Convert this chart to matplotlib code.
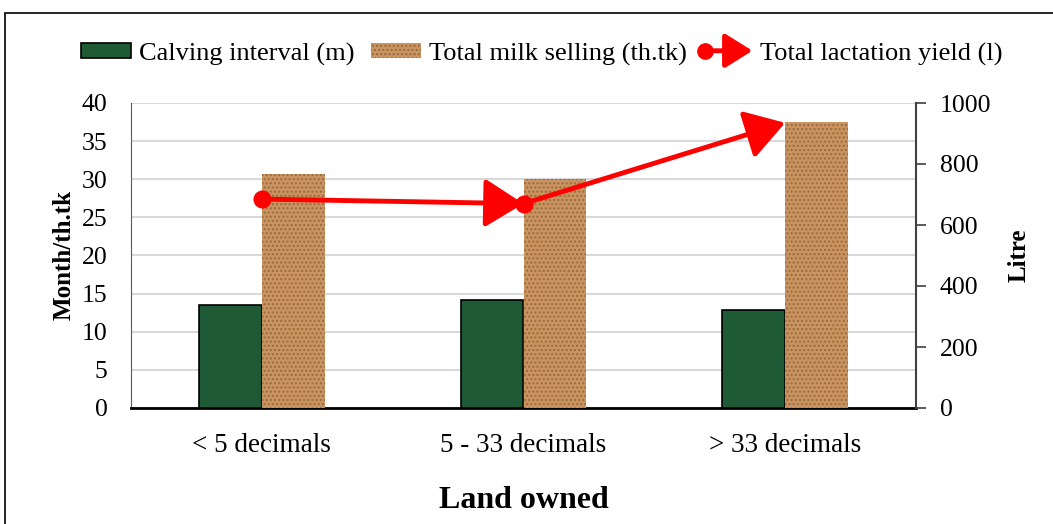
import matplotlib
matplotlib.use("Agg")
import matplotlib.pyplot as plt
import numpy as np
from matplotlib.patches import Rectangle, FancyArrowPatch
from matplotlib.lines import Line2D
from matplotlib.legend_handler import HandlerBase

categories = ["< 5 decimals", "5 - 33 decimals", "> 33 decimals"]
calving_interval = [13.5, 14.2, 12.85]
milk_selling = [30.7, 30.0, 37.5]
lactation_yield = [685, 670, 935]

plt.rcParams['font.family'] = ['Liberation Serif', 'DejaVu Serif']
plt.rcParams['hatch.color'] = '#9a6a40'

fig = plt.figure(figsize=(10.53, 5.24), dpi=100)
ax = fig.add_axes([131/1053, 1-408/524, (916-131)/1053, 305/524])
ax2 = ax.twinx()

x = np.arange(len(categories))
w = 0.24
green = '#1d5a35'
brown = '#c99460'
b1 = ax.bar(x - w/2, calving_interval, w, color=green, edgecolor='black', linewidth=1.2, zorder=3)
b2 = ax.bar(x + w/2, milk_selling, w, color=brown, linewidth=0, hatch='....', zorder=3)

ax.set_xlim(-0.5, 2.5)
ax.set_ylim(0, 40)
ax.set_yticks(range(0, 41, 5))
ax.yaxis.grid(True, color='#d9d9d9', linewidth=1.5, zorder=0)
ax.set_axisbelow(True)
ax.set_xticks(x)
ax.set_xticklabels(categories, fontsize=19.5)
ax.tick_params(axis='x', length=0, pad=18)
ax.tick_params(axis='y', length=0, labelsize=18.5, pad=17)
for s in ['top', 'right']:
    ax.spines[s].set_visible(False)
ax.spines['left'].set_color('#595959')
ax.spines['bottom'].set_linewidth(2)
ax.spines['bottom'].set_color('black')

ax2.set_ylim(0, 1000)
ax2.set_yticks(range(0, 1001, 200))
ax2.tick_params(axis='y', length=7, width=1.2, color='#404040', labelsize=18.5, pad=10)
for s in ['top', 'left', 'bottom']:
    ax2.spines[s].set_visible(False)
ax2.spines['right'].set_color('#404040')
ax2.spines['right'].set_linewidth(1.5)

# line with arrow segments
for i in range(len(x) - 1):
    ax2.annotate('', xy=(x[i+1], lactation_yield[i+1]), xytext=(x[i], lactation_yield[i]),
                 arrowprops=dict(arrowstyle='-|>,head_length=1.2,head_width=0.75', color='red',
                                 lw=3.5, shrinkA=0, shrinkB=0, mutation_scale=20), zorder=5)
ax2.plot(x[:-1], lactation_yield[:-1], 'o', color='red', markersize=12, zorder=6)

ax.set_ylabel('Month/th.tk', fontsize=18, fontweight='bold', labelpad=4)
ax2.set_ylabel('Litre', fontsize=18, fontweight='bold', labelpad=12)
ax.set_xlabel('Land owned', fontsize=23, fontweight='bold', labelpad=20)


class ArrowHandler(HandlerBase):
    def create_artists(self, legend, orig_handle, xdescent, ydescent, width, height, fontsize, trans):
        y = height / 2 - ydescent
        arr = FancyArrowPatch((0, y), (width, y), arrowstyle='-|>,head_length=1.2,head_width=0.75',
                              color='red', lw=3.5, mutation_scale=14, shrinkA=0, shrinkB=0, transform=trans)
        dot = Line2D([2], [y], marker='o', color='red', markersize=11, transform=trans)
        return [arr, dot]


line_handle = Line2D([], [], color='red')
leg = fig.legend([b1, b2, line_handle],
                 ['Calving interval (m)', 'Total milk selling (th.tk)', 'Total lactation yield (l)'],
                 handler_map={line_handle: ArrowHandler()},
                 loc='center', bbox_to_anchor=(542/1053, 1-54/524), ncol=3, frameon=False,
                 fontsize=19, handlelength=1.9, handleheight=0.5, handletextpad=0.3, columnspacing=0.6)

fig.patches.append(Rectangle((5/1053, -0.1), 1.2, 1 - 13/524 + 0.1, transform=fig.transFigure,
                             fill=False, edgecolor='black', linewidth=1.2))

fig.savefig('out.png', dpi=100)
